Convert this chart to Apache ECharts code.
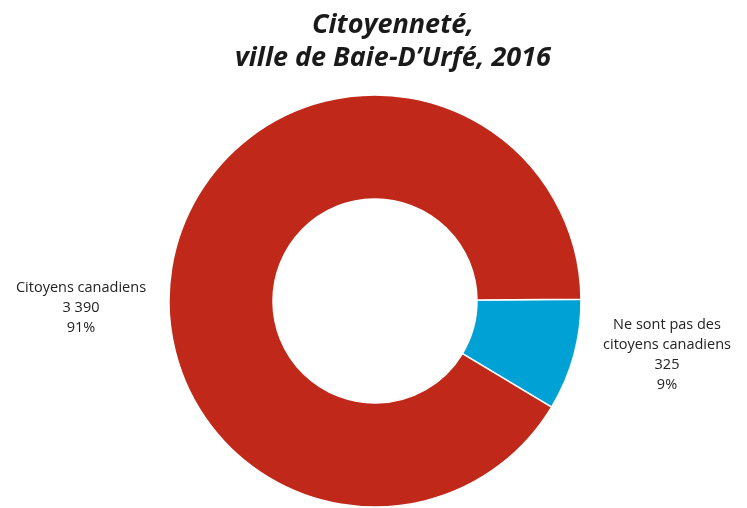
<!DOCTYPE html>
<html>
<head>
<meta charset="utf-8">
<script src="https://cdn.jsdelivr.net/npm/echarts@6/dist/echarts.min.js"></script>
<style>
  html, body { margin: 0; padding: 0; background: #fff; }
  #chart { width: 747px; height: 508px; }
</style>
</head>
<body>
<div id="chart"></div>
<script>
const categories = ['Ne sont pas des\ncitoyens canadiens', 'Citoyens canadiens']
const values = [325, 3390]
const percents = ['9%', '91%']
const valueLabels = ['325', '3 390']
const COLORS = ['#00a2d5', '#c0291a']

// where each label's centre sits (label placement only)
const LABEL_POS = [
  { x: 667, y: 355 },
  { x: 81, y: 308 },
]

const chart = echarts.init(document.getElementById('chart'), null, { renderer: 'canvas' })

chart.setOption({
  animation: false,
  title: {
    text: 'Citoyenneté,\nville de Baie-D\u2019Urfé, 2016',
    left: 388,
    top: 4,
    textAlign: 'center',
    textStyle: {
      fontFamily: 'Open Sans',
      fontSize: 27,
      fontWeight: 'bold',
      fontStyle: 'italic',
      color: '#1a1a1a',
      lineHeight: 33,
    },
  },
  series: [{
    type: 'pie',
    center: [375, 301],
    radius: [102, 206],
    startAngle: 0.5,
    clockwise: true,
    itemStyle: { borderColor: '#fff', borderWidth: 1.5 },
    label: {
      show: true,
      position: 'outside',
      fontFamily: 'Open Sans',
      fontSize: 14.5,
      lineHeight: 20,
      color: '#222',
      align: 'center',
      overflow: 'none',
      width: 200,
      formatter: (p) => p.name + '\n' + valueLabels[p.dataIndex] + '\n' + percents[p.dataIndex],
    },
    labelLine: { show: false },
    labelLayout: (p) => ({
      x: LABEL_POS[p.dataIndex].x,
      y: LABEL_POS[p.dataIndex].y,
      align: 'center',
      verticalAlign: 'middle',
    }),
    emphasis: { disabled: true },
    data: categories.map((name, i) => ({
      name, value: values[i], itemStyle: { color: COLORS[i] },
    })),
  }],
})
</script>
</body>
</html>
